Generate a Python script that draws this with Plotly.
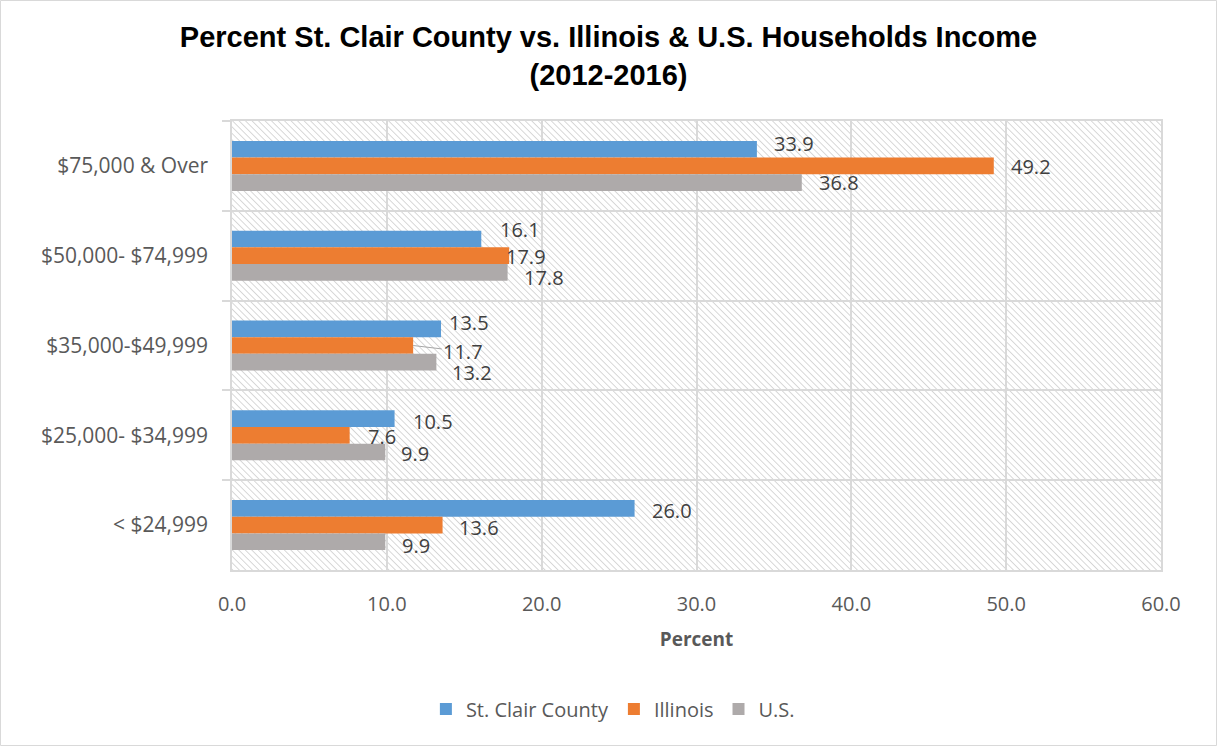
import base64
import plotly.graph_objects as go

# Household income brackets, top to bottom
categories = ["$75,000 & Over", "$50,000- $74,999", "$35,000-$49,999",
              "$25,000- $34,999", "< $24,999"]

series_names = ["St. Clair County", "Illinois", "U.S."]
st_clair = [33.9, 16.1, 13.5, 10.5, 26.0]
illinois = [49.2, 17.9, 11.7, 7.6, 13.6]
us = [36.8, 17.8, 13.2, 9.9, 9.9]

x_ticks = [0, 10, 20, 30, 40, 50, 60]

colors = ["#5B9BD5", "#ED7D31", "#AEAAAA"]

# pixel nudges (dx, dy) for each data label, per series / category
label_nudges = [
    [(15, 22), (17, 26), (6, 23), (16, 14), (15, 15)],
    [(15, -1), (-5, -1), None, (16, -1), (14, -2)],
    [(15, -17), (14, -22), (14, -27), (14, -18), (15, -20)],
]
# 11.7 uses a leader line instead of a nudge
leader = {"series": 1, "cat": 2, "ax": 50, "ay": 6}

W, H = 1217, 746
M_L, M_R, M_T, M_B = 232, 56, 121, 176
PW, PH = W - M_L - M_R, H - M_T - M_B

font_main = "Open Sans, Calibri, sans-serif"
grey_text = "#595959"
grid = "#D9D9D9"

fig = go.Figure()
for name, vals, col in zip(series_names, [st_clair, illinois, us], colors):
    fig.add_trace(go.Bar(
        name=name, y=categories, x=vals, orientation="h",
        marker=dict(color=col, line=dict(width=0)),
        hoverinfo="x+name",
    ))

annotations = []
for s, vals in enumerate([st_clair, illinois, us]):
    for c, v in enumerate(vals):
        txt = f"{v:.1f}"
        if s == leader["series"] and c == leader["cat"]:
            annotations.append(dict(
                x=v, y=categories[c], text=txt, showarrow=True,
                ax=leader["ax"], ay=leader["ay"], arrowhead=0, arrowwidth=1,
                arrowcolor="#A6A6A6", standoff=0, startstandoff=0,
                font=dict(family=font_main, size=20, color="#404040"),
            ))
            continue
        dx, dy = label_nudges[s][c]
        annotations.append(dict(
            x=v, y=categories[c], text=txt, showarrow=False,
            xanchor="left", yanchor="middle", xshift=dx, yshift=dy,
            font=dict(family=font_main, size=20, color="#404040"),
        ))

# hatched plot-area background (downward diagonal lines)
svg = (
    f'<svg xmlns="http://www.w3.org/2000/svg" width="{PW}" height="{PH}">'
    '<defs><pattern id="h" width="4.6" height="4.6" patternUnits="userSpaceOnUse" '
    'patternTransform="rotate(-45)">'
    '<line x1="0" y1="-2" x2="0" y2="8" stroke="#CFCFCF" stroke-width="1.6"/>'
    '</pattern></defs>'
    f'<rect width="{PW}" height="{PH}" fill="white"/>'
    f'<rect width="{PW}" height="{PH}" fill="url(#h)"/></svg>'
)
svg_uri = "data:image/svg+xml;base64," + base64.b64encode(svg.encode()).decode()

fig.update_layout(
    width=W, height=H,
    margin=dict(l=M_L, r=M_R, t=M_T, b=M_B, pad=0),
    paper_bgcolor="white", plot_bgcolor="rgba(0,0,0,0)",
    barmode="group", bargap=0.443, bargroupgap=0,
    title=dict(
        text="<b>Percent St. Clair County vs. Illinois & U.S. Households Income<br>(2012-2016)</b>",
        x=0.5, xanchor="center", y=1 - 47 / H, yanchor="middle",
        font=dict(family="Liberation Sans, Arial, sans-serif", size=29, color="black"),
    ),
    xaxis=dict(
        range=[0, 60], tickvals=x_ticks, ticktext=[f"{t:.1f}" for t in x_ticks],
        showgrid=True, gridcolor=grid, gridwidth=1.5,
        showline=True, linecolor=grid, linewidth=1.5, mirror=True,
        zeroline=False, ticks="", ticklabelstandoff=15,
        tickfont=dict(family=font_main, size=20, color=grey_text),
        title=dict(text="<b>Percent</b>", standoff=17,
                   font=dict(family=font_main, size=19, color=grey_text)),
        fixedrange=True,
    ),
    yaxis=dict(
        categoryorder="array", categoryarray=categories, autorange="reversed",
        tickson="boundaries", ticks="outside", ticklen=8, tickcolor=grid, tickwidth=1.5,
        showgrid=True, gridcolor=grid, gridwidth=1.5,
        showline=True, linecolor=grid, linewidth=1.5, mirror=True,
        ticklabelstandoff=18,
        tickfont=dict(family=font_main, size=21, color=grey_text),
        fixedrange=True,
    ),
    legend=dict(
        orientation="h", x=0.41, xanchor="center", y=(570 - 709) / PH,
        yanchor="middle", font=dict(family=font_main, size=20, color=grey_text),
        bgcolor="rgba(0,0,0,0)",
    ),
    images=[dict(source=svg_uri, xref="paper", yref="paper", x=0, y=1,
                 sizex=1, sizey=1, sizing="stretch", layer="below",
                 xanchor="left", yanchor="top")],
    annotations=annotations,
    shapes=[dict(type="rect", xref="paper", yref="paper",
                 x0=(0.5 - M_L) / PW, x1=(W - 0.5 - M_L) / PW,
                 y0=(M_T + PH - (H - 0.5)) / PH, y1=(M_T + PH - 0.5) / PH,
                 line=dict(color=grid, width=1), fillcolor="rgba(0,0,0,0)",
                 layer="below")],
    showlegend=True,
)

fig.write_html("out.html")
